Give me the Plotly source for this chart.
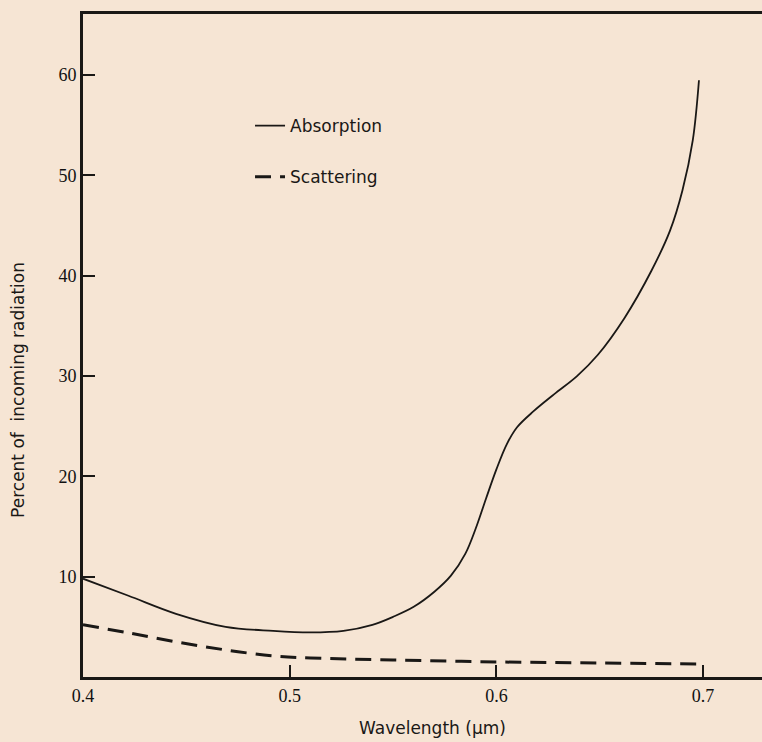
import plotly.graph_objects as go

# Data
absorption_wavelength = [0.400, 0.422, 0.445, 0.469, 0.492, 0.510, 0.526, 0.540, 0.550,
                         0.560, 0.570, 0.578, 0.585, 0.590, 0.595, 0.600, 0.605, 0.610,
                         0.618, 0.628, 0.639, 0.649, 0.662, 0.675, 0.684, 0.690, 0.695, 0.698]
absorption_pct = [9.8, 8.1, 6.3, 5.0, 4.6, 4.45, 4.6, 5.2, 6.0,
                  7.0, 8.5, 10.1, 12.3, 14.8, 17.8, 20.7, 23.2, 24.9,
                  26.5, 28.2, 30.0, 32.1, 35.8, 40.5, 44.5, 48.5, 53.5, 59.5]

scattering_wavelength = [0.400, 0.422, 0.445, 0.469, 0.492, 0.510, 0.550, 0.600, 0.650, 0.700]
scattering_pct = [5.2, 4.4, 3.5, 2.7, 2.1, 1.9, 1.7, 1.5, 1.4, 1.3]

x_tick_values = [0.4, 0.5, 0.6, 0.7]
x_tick_labels = ["0.4", "0.5", "0.6", "0.7"]
y_tick_values = [10, 20, 30, 40, 50, 60]
y_tick_labels = ["10", "20", "30", "40", "50", "60"]

ink = "#1a1816"
paper = "#f6e5d4"
sans = "DejaVu Sans, Liberation Sans, sans-serif"
serif = "Liberation Serif, Times New Roman, serif"

fig = go.Figure()
fig.add_trace(go.Scatter(
    x=absorption_wavelength, y=absorption_pct, mode="lines", name="Absorption",
    line=dict(color=ink, width=1.8, shape="spline", smoothing=1.0),
    legendgroup="a",
))
fig.add_trace(go.Scatter(
    x=scattering_wavelength, y=scattering_pct, mode="lines", name="Scattering",
    line=dict(color=ink, width=3, dash="16px,9px", shape="spline", smoothing=1.0),
    legendgroup="s",
))

fig.update_layout(
    width=762, height=742,
    margin=dict(l=83, r=0, t=14, b=65),
    paper_bgcolor=paper, plot_bgcolor=paper,
    showlegend=True,
    legend=dict(
        x=0.246, y=0.858, xanchor="left", yanchor="top",
        bgcolor="rgba(0,0,0,0)", tracegroupgap=26,
        font=dict(family=sans, size=17, color=ink),
    ),
    xaxis=dict(
        range=[0.4, 0.7285], showgrid=False, zeroline=False,
        showline=True, linecolor=ink, linewidth=3, mirror=True,
        tickmode="array", tickvals=x_tick_values, ticktext=x_tick_labels,
        ticks="inside", ticklen=12, tickwidth=1.5, tickcolor=ink,
        tickfont=dict(family=serif, size=18, color="#111"),
    ),
    yaxis=dict(
        range=[0, 66.1], showgrid=False, zeroline=False,
        showline=True, linecolor=ink, linewidth=3,
        tickmode="array", tickvals=y_tick_values, ticktext=y_tick_labels,
        ticks="inside", ticklen=12, tickwidth=1.5, tickcolor=ink,
        tickfont=dict(family=serif, size=18, color="#111"),
    ),
    annotations=[
        dict(text="Percent of  incoming radiation", xref="paper", yref="paper",
             x=-0.0957, y=0.433, xanchor="center", yanchor="middle",
             showarrow=False, textangle=-90,
             font=dict(family=sans, size=17, color=ink)),
        dict(text="Wavelength (\u03bcm)", xref="paper", yref="paper",
             x=0.515, y=-0.077, xanchor="center", yanchor="middle",
             showarrow=False,
             font=dict(family=sans, size=17, color=ink)),
    ],
)

fig.write_html("out.html")
